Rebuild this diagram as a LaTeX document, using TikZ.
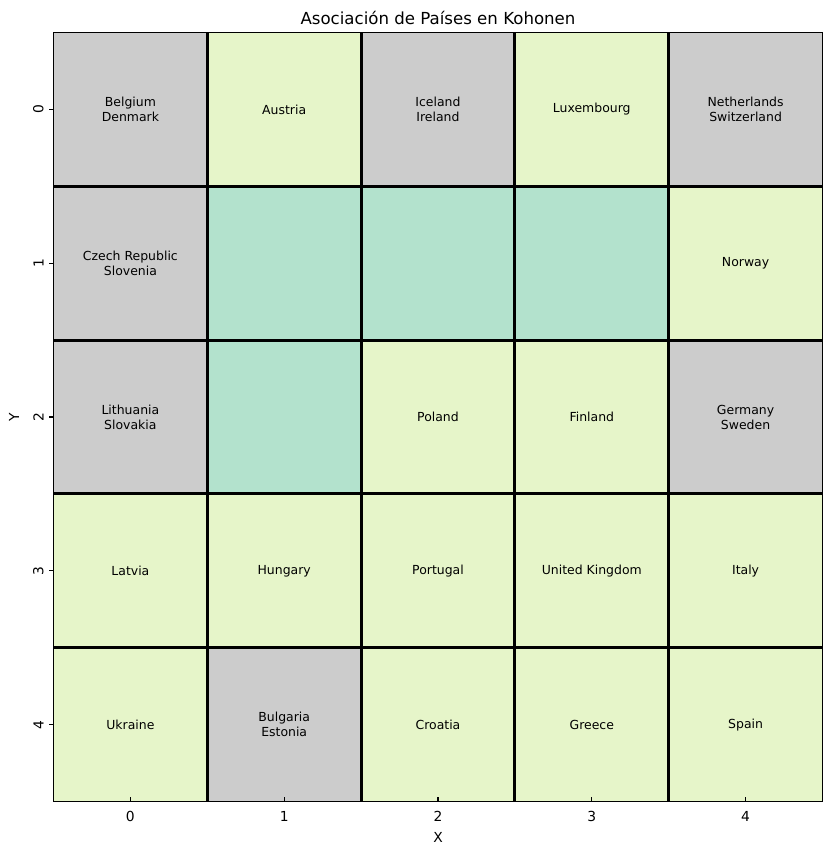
\documentclass[tikz,border=0pt]{standalone}
\usepackage{fontspec}
\setmainfont{DejaVu Sans}
\definecolor{gris}{HTML}{CCCCCC}
\definecolor{verde}{HTML}{E6F5C9}
\definecolor{menta}{HTML}{B3E2CD}
\tikzset{
  pais/.style={font=\fontsize{9}{10.8}\selectfont, align=center, inner sep=0pt},
  marca/.style={font=\fontsize{10}{12}\selectfont, inner sep=0pt},
  rejilla/.style={line width=2.1pt, black},
}
\begin{document}
\begin{tikzpicture}[x=110.74bp,y=-110.74bp]
\useasboundingbox (-0.3478,-0.2113) rectangle (5.0683,5.3479);

% Celdas
\fill[gris] (0,0) rectangle (1,1);
\fill[verde] (1,0) rectangle (2,1);
\fill[gris] (2,0) rectangle (3,1);
\fill[verde] (3,0) rectangle (4,1);
\fill[gris] (4,0) rectangle (5,1);
\fill[gris] (0,1) rectangle (1,2);
\fill[menta] (1,1) rectangle (4,2);
\fill[verde] (4,1) rectangle (5,2);
\fill[gris] (0,2) rectangle (1,3);
\fill[menta] (1,2) rectangle (2,3);
\fill[verde] (2,2) rectangle (4,3);
\fill[gris] (4,2) rectangle (5,3);
\fill[verde] (0,3) rectangle (5,4);
\fill[verde] (0,4) rectangle (1,5);
\fill[gris] (1,4) rectangle (2,5);
\fill[verde] (2,4) rectangle (5,5);

% Rejilla
\foreach \k in {1,...,4} {
  \draw[rejilla] (\k,0) -- (\k,5);
  \draw[rejilla] (0,\k) -- (5,\k);
}
\draw[line width=1.1pt] (0,0) rectangle (5,5);

% Paises
\node[pais] (p00) at (0.5,0.5) {Belgium\\Denmark};
\node[pais] (p10) at (1.5,0.5) {Austria};
\node[pais] (p20) at (2.5,0.5) {Iceland\\Ireland};
\node[pais] (p30) at (3.5,0.5) {Luxembourg};
\node[pais] (p40) at (4.5,0.5) {Netherlands\\Switzerland};
\node[pais] (p01) at (0.5,1.5) {Czech Republic\\Slovenia};
\node[pais] (p41) at (4.5,1.5) {Norway};
\node[pais] (p02) at (0.5,2.5) {Lithuania\\Slovakia};
\node[pais] (p22) at (2.5,2.5) {Poland};
\node[pais] (p32) at (3.5,2.5) {Finland};
\node[pais] (p42) at (4.5,2.5) {Germany\\Sweden};
\node[pais] (p03) at (0.5,3.5) {Latvia};
\node[pais] (p13) at (1.5,3.5) {Hungary};
\node[pais] (p23) at (2.5,3.5) {Portugal};
\node[pais] (p33) at (3.5,3.5) {United Kingdom};
\node[pais] (p43) at (4.5,3.5) {Italy};
\node[pais] (p04) at (0.5,4.5) {Ukraine};
\node[pais] (p14) at (1.5,4.5) {Bulgaria\\Estonia};
\node[pais] (p24) at (2.5,4.5) {Croatia};
\node[pais] (p34) at (3.5,4.5) {Greece};
\node[pais] (p44) at (4.5,4.5) {Spain};

% Ejes
\foreach \k in {0,...,4} {
  \draw[line width=0.8pt] (\k+0.5,5) -- ++(0,3.5pt);
  \draw[line width=0.8pt] (0,\k+0.5) -- ++(-3.5pt,0);
  \node[marca, anchor=north] (mx\k) at ([yshift=-7pt]\k+0.5,5) {\k};
  \node[marca, anchor=south, rotate=90] (my\k) at ([xshift=-7pt]0,\k+0.5) {\k};
}
\node[marca] (ejex) at (2.5,5.237) {X};
\node[marca, rotate=90] (ejey) at (-0.257,2.5) {Y};

% Titulo
\node[font=\fontsize{12}{14}\selectfont, inner sep=0pt] (titulo) at (2.5,-0.094) {Asociación de Países en Kohonen};
\end{tikzpicture}
\end{document}
